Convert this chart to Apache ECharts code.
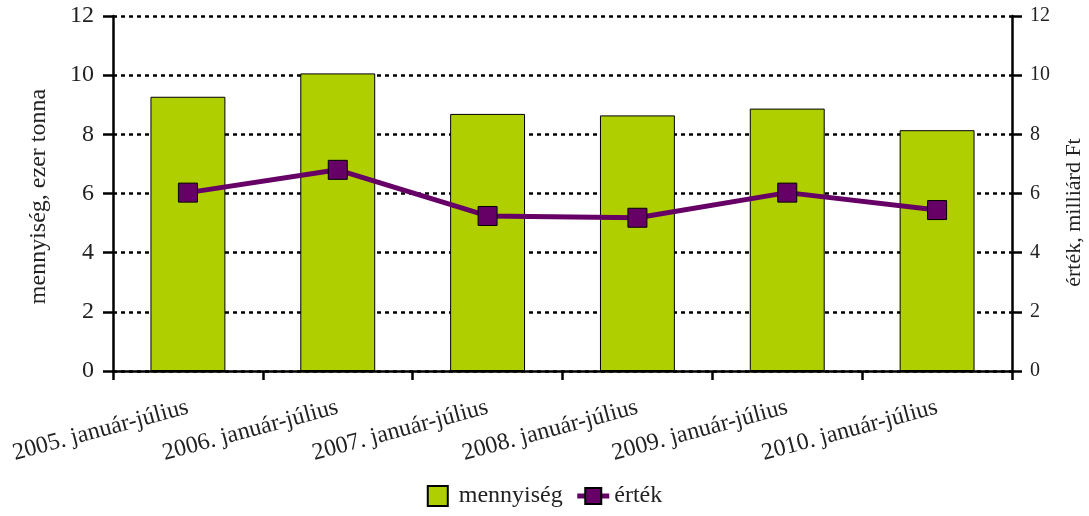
<!DOCTYPE html>
<html>
<head>
<meta charset="utf-8">
<script src="https://cdn.jsdelivr.net/npm/echarts@6/dist/echarts.min.js"></script>
<style>html,body{margin:0;padding:0;background:#fff;}#c{width:1089px;height:516px;}</style>
</head>
<body>
<div id="c"></div>
<script>
const categories = ['2005. január-július','2006. január-július','2007. január-július','2008. január-július','2009. január-július','2010. január-július'];
const mennyiseg = [9.27, 10.06, 8.69, 8.64, 8.87, 8.14];
const ertek = [6.03, 6.80, 5.24, 5.18, 6.03, 5.44];
const yTicks = [0, 2, 4, 6, 8, 10, 12];

const FONT = '"Liberation Serif", "DejaVu Serif", serif';
const chart = echarts.init(document.getElementById('c'));
chart.setOption({
  animation: false,
  backgroundColor: '#fff',
  textStyle: { fontFamily: FONT, color: '#222' },
  grid: { left: 113, right: 77, top: 16, bottom: 145, containLabel: false, outerBoundsMode: 'none' },
  legend: {
    bottom: 3, left: 'center',
    itemWidth: 32, itemHeight: 20, itemGap: 12,
    textStyle: { fontFamily: FONT, fontSize: 24, color: '#222' },
    data: [
      { name: 'mennyiség', icon: 'path://M0,0L10,0L10,10L0,10Z' },
      { name: 'érték', lineStyle: { width: 5 } }
    ]
  },
  xAxis: {
    type: 'category',
    data: categories,
    axisLine: { lineStyle: { color: '#000', width: 2.5 } },
    axisTick: { show: true, alignWithLabel: false, length: 9, lineStyle: { color: '#000', width: 2.5 } },
    axisLabel: { rotate: 15, margin: 36, fontSize: 24, color: '#222', fontFamily: FONT, interval: 0 }
  },
  yAxis: [
    {
      type: 'value', min: yTicks[0], max: yTicks[yTicks.length - 1], interval: 2,
      name: 'mennyiség, ezer tonna', nameLocation: 'middle', nameGap: 62,
      nameTextStyle: { fontSize: 24, color: '#222', fontFamily: FONT, padding: [0, 6, 0, 0] },
      axisLine: { show: true, lineStyle: { color: '#000', width: 2.5 } },
      axisTick: { show: true, length: 10, lineStyle: { color: '#000', width: 2.5 } },
      axisLabel: { fontSize: 24, margin: 19, color: '#222', fontFamily: FONT },
      splitLine: { show: true, lineStyle: { color: '#000', width: 2.5, type: [4, 4] } }
    },
    {
      type: 'value', min: yTicks[0], max: yTicks[yTicks.length - 1], interval: 2,
      name: 'érték, milliárd Ft', nameLocation: 'middle', nameGap: 51, nameRotate: 90,
      nameTextStyle: { fontSize: 22, color: '#222', fontFamily: FONT, padding: [0, 38, 0, 0] },
      axisLine: { show: true, lineStyle: { color: '#000', width: 2.5 } },
      axisTick: { show: true, length: 10, lineStyle: { color: '#000', width: 2.5 } },
      axisLabel: { fontSize: 20, margin: 18, color: '#222', fontFamily: FONT },
      splitLine: { show: false }
    }
  ],
  series: [
    {
      name: 'mennyiség', type: 'bar', yAxisIndex: 0, data: mennyiseg,
      barWidth: '50%',
      itemStyle: { color: '#AFCF00', borderColor: '#000', borderWidth: 1 }
    },
    {
      name: 'érték', type: 'line', yAxisIndex: 1, data: ertek,
      symbol: 'rect', symbolSize: 19,
      lineStyle: { color: '#660066', width: 5 },
      itemStyle: { color: '#660066', borderColor: '#000', borderWidth: 1 },
      z: 5
    }
  ]
});
</script>
</body>
</html>
